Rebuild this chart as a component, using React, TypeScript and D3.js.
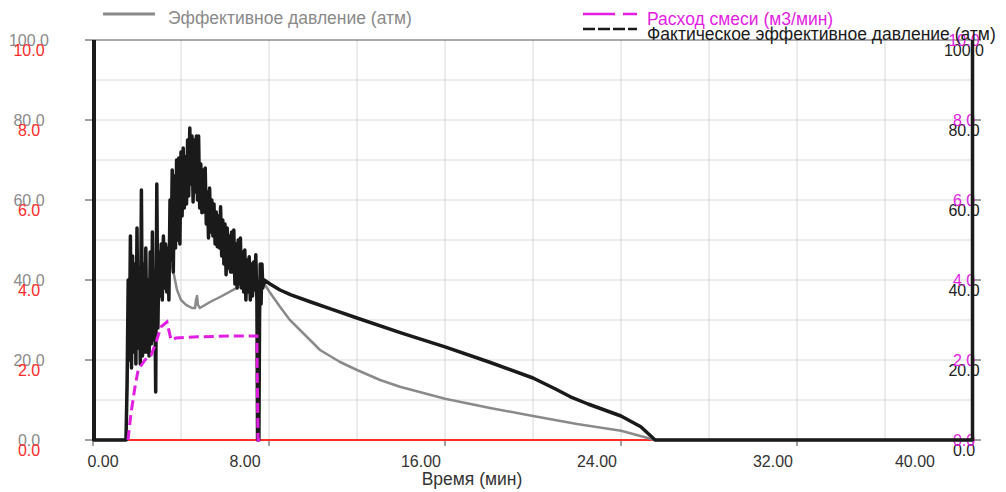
import React from "react";
import * as d3 from "d3";

// ---------- data ----------
const xTicks = [0, 8, 16, 24, 32, 40];
const xTickLabels = ["0.00", "8.00", "16.00", "24.00", "32.00", "40.00"];
const pTicks = [0, 20, 40, 60, 80, 100];
const pTickLabels = ["0.0", "20.0", "40.0", "60.0", "80.0", "100.0"];
const rTickLabels = ["0.0", "2.0", "4.0", "6.0", "8.0", "10.0"];

const seriesNames = [
  "Эффективное давление (атм)",
  "Расход смеси (м3/мин)",
  "Фактическое эффективное давление (атм)",
];
const xAxisTitle = "Время (мин)";

// Эффективное давление (gray, left axis 0..100)
const effT = [0, 1.5, 1.55, 1.59, 1.91, 2.36, 2.82, 3.18, 3.41, 3.55, 3.68, 3.82, 4.0, 4.23, 4.5, 4.64, 4.68, 4.73, 4.77, 4.86, 5.32, 5.86, 6.45, 7.14, 7.68, 8.05, 8.5, 8.95, 9.41, 10.32, 11.23, 12.0, 13.05, 13.95, 16.0, 18.05, 20.0, 22.0, 24.0, 25.55, 40];
const effV = [0, 0, 15, 29, 30.5, 32, 35, 38, 43, 44.5, 41.3, 37.5, 35, 33.8, 33, 33, 35, 36, 33.8, 33, 34.5, 36, 37.8, 39.3, 40, 36.8, 33.3, 30, 27.5, 22.5, 19.5, 17.5, 15, 13.3, 10.3, 8, 6, 4, 2.3, 0, 0];

// Расход смеси (magenta, right axis 0..10)
const flowT = [1.59, 1.73, 1.91, 2.05, 2.36, 2.64, 2.86, 3.09, 3.36, 3.55, 3.77, 4.77, 6.23, 7.36, 7.45, 7.5, 7.6];
const flowV = [0, 0.68, 1.33, 1.75, 2.0, 2.12, 2.43, 2.83, 2.95, 2.5, 2.55, 2.58, 2.6, 2.6, 2.6, 0, 0];

// Фактическое эффективное давление (black, right axis 0..100)
const factT = [
  0, 1.5, 1.55, 1.6, 1.65, 1.7, 1.75, 1.8, 1.85, 1.9, 1.95, 2.0, 2.05, 2.1, 2.15, 2.2, 2.25, 2.3, 2.35, 2.4,
  2.45, 2.5, 2.55, 2.6, 2.65, 2.7, 2.75, 2.8, 2.85, 2.9, 2.95, 3.0, 3.05, 3.1, 3.15, 3.2, 3.25, 3.3, 3.35, 3.4,
  3.45, 3.5, 3.55, 3.6, 3.65, 3.7, 3.75, 3.8, 3.85, 3.9, 3.95, 4.0, 4.05, 4.1, 4.15, 4.2, 4.25, 4.3, 4.35, 4.4,
  4.45, 4.5, 4.55, 4.6, 4.65, 4.7, 4.75, 4.8, 4.85, 4.9, 4.95, 5.0, 5.05, 5.1, 5.15, 5.2, 5.25, 5.3, 5.35, 5.4,
  5.45, 5.5, 5.55, 5.6, 5.65, 5.7, 5.75, 5.8, 5.85, 5.9, 5.95, 6.0, 6.05, 6.1, 6.15, 6.2, 6.25, 6.3, 6.35, 6.4,
  6.45, 6.5, 6.55, 6.6, 6.65, 6.7, 6.75, 6.8, 6.85, 6.9, 6.95, 7.0, 7.05, 7.1, 7.15, 7.2, 7.25, 7.3, 7.35, 7.4,
  7.45, 7.48, 7.51, 7.54, 7.57, 7.6, 7.64, 7.68, 7.72, 7.78,
  8.05, 8.5, 9.0, 9.9, 10.8, 12.0, 14.0, 16.0, 18.0, 20.0, 21.0, 21.7, 22.5, 24.0, 24.9, 25.55, 40,
];
const factV = [
  0, 0, 14, 40, 20, 51, 18, 46, 22, 44, 19, 53, 23, 43, 19, 62.5, 21, 44, 22, 48,
  22, 40, 21, 47, 24, 52, 25, 42, 12, 64, 28, 47, 36, 49, 35, 51, 38, 49, 37, 48,
  35, 60, 45, 67.5, 42, 66, 48, 70, 50, 70.5, 49, 72, 56, 73, 58, 70.8, 59, 75, 61, 78,
  64, 76, 59.5, 75, 62, 76, 60, 76, 58, 69, 56.8, 67.5, 57, 68, 54, 62, 50.5, 63, 52, 60,
  51, 59, 49, 57, 48.3, 56, 48, 58.3, 46, 55, 44, 54, 41.3, 53, 43, 51, 42, 52, 42, 52.5,
  39, 49, 38, 50, 39, 50.5, 38, 47, 37, 47.5, 35, 45, 37, 45.8, 35, 44, 36, 44.5, 37.5, 46.3,
  35, 0, 36, 0, 30, 44, 34, 44, 38, 40,
  39, 37.5, 36.3, 34.5, 32.8, 30.5, 26.8, 23.3, 19.5, 15.5, 12.8, 10.8, 9, 6, 3.3, 0, 0,
];

// red series (left red axis 0..10)
const redT = [1.59, 40];
const redV = [0, 0];

// ---------- layout ----------
const W = 1006;
const H = 492;
const L = 93;
const R = 973;
const T = 40;
const B = 440;

const GRAY = "#8a8a8a";
const RED = "#ff2a2a";
const MAG = "#e21ee2";
const BLK = "#1a1a1a";
const FONT = "'Liberation Sans', Arial, sans-serif";

export default function App() {
  const x = d3.scaleLinear().domain([0, 40]).range([L, R]);
  const yP = d3.scaleLinear().domain([0, 100]).range([B, T]);
  const yR = d3.scaleLinear().domain([0, 10]).range([B, T]);

  const lineP = (ts: number[], vs: number[]) =>
    d3.line<number>().x((_, i) => x(ts[i])).y((v) => yP(v))(vs) || "";
  const lineR = (ts: number[], vs: number[]) =>
    d3.line<number>().x((_, i) => x(ts[i])).y((v) => yR(v))(vs) || "";

  const vGrid = d3.range(0, 41, 4);
  const hGrid = d3.range(0, 101, 10);

  return (
    <svg
      width={W}
      height={H}
      style={{ position: "absolute", left: 0, top: 0, background: "#fff" }}
      fontFamily={FONT}
    >
      {/* grid */}
      {vGrid.map((g) => (
        <line key={"v" + g} x1={x(g)} x2={x(g)} y1={T} y2={B} stroke="#d8d8d8" strokeWidth={1} />
      ))}
      {hGrid.map((g) => (
        <line key={"h" + g} x1={L} x2={R} y1={yP(g)} y2={yP(g)} stroke={g === 100 ? "#555" : "#d8d8d8"} strokeWidth={1} />
      ))}
      {/* bottom axis line */}
      <line x1={L} x2={R} y1={B + 0.5} y2={B + 0.5} stroke="#333" strokeWidth={1} />

      {/* x ticks and labels */}
      {xTicks.map((t, i) => {
        const cx = Math.min(915, Math.max(103, x(t) - 24));
        return (
          <g key={"xt" + t}>
            <line x1={x(t)} x2={x(t)} y1={B} y2={B + 6} stroke="#444" strokeWidth={1} />
            <text x={cx} y={467} textAnchor="middle" fontSize={16} fill="#333">
              {xTickLabels[i]}
            </text>
          </g>
        );
      })}
      <text x={472} y={485} textAnchor="middle" fontSize={17.5} fill="#333">
        {xAxisTitle}
      </text>

      {/* left axis */}
      {pTicks.map((p, i) => (
        <g key={"lt" + p}>
          <line x1={85} x2={L} y1={yP(p)} y2={yP(p)} stroke="#444" strokeWidth={1} />
          <text x={29} y={yP(p) + 5.5} textAnchor="middle" fontSize={16} fill={GRAY}>
            {pTickLabels[i]}
          </text>
          <text x={29} y={yP(p) + 16} textAnchor="middle" fontSize={16} fill={RED}>
            {rTickLabels[i]}
          </text>
        </g>
      ))}
      {/* right axis */}
      {pTicks.map((p, i) => (
        <g key={"rt" + p}>
          <line x1={R} x2={981} y1={yP(p)} y2={yP(p)} stroke="#444" strokeWidth={1} />
          <text x={964} y={yP(p) + 16} textAnchor="middle" fontSize={16} fill="#222">
            {pTickLabels[i]}
          </text>
          <text x={964} y={yP(p) + 5.5} textAnchor="middle" fontSize={16} fill={MAG}>
            {rTickLabels[i]}
          </text>
        </g>
      ))}

      {/* series */}
      <path d={lineR(redT, redV)} fill="none" stroke={RED} strokeWidth={2} />
      <path d={lineP(effT, effV)} fill="none" stroke={GRAY} strokeWidth={2.5} strokeLinejoin="round" />
      <path d={lineP(factT, factV)} fill="none" stroke={BLK} strokeWidth={3.5} strokeLinejoin="round" />
      <path d={lineR(flowT, flowV)} fill="none" stroke={MAG} strokeWidth={3} strokeDasharray="10,5" />

      {/* axis lines */}
      <line x1={L + 1} x2={L + 1} y1={T} y2={B + 1} stroke={BLK} strokeWidth={4} />
      <line x1={R - 0.5} x2={R - 0.5} y1={T} y2={B + 1} stroke={BLK} strokeWidth={3.5} />

      {/* legend */}
      <line x1={103} x2={155} y1={14} y2={14} stroke={GRAY} strokeWidth={3} />
      <text x={168} y={24} fontSize={17.5} fill={GRAY}>
        {seriesNames[0]}
      </text>
      <line x1={583} x2={637} y1={14} y2={14} stroke={MAG} strokeWidth={2.5} strokeDasharray="32,8,14" />
      <text x={647} y={25} fontSize={17.5} fill={MAG}>
        {seriesNames[1]}
      </text>
      <line x1={583} x2={637} y1={29} y2={29} stroke={BLK} strokeWidth={2.5} strokeDasharray="12,3" />
      <text x={647} y={40} fontSize={17.5} fill={BLK}>
        {seriesNames[2]}
      </text>
    </svg>
  );
}
